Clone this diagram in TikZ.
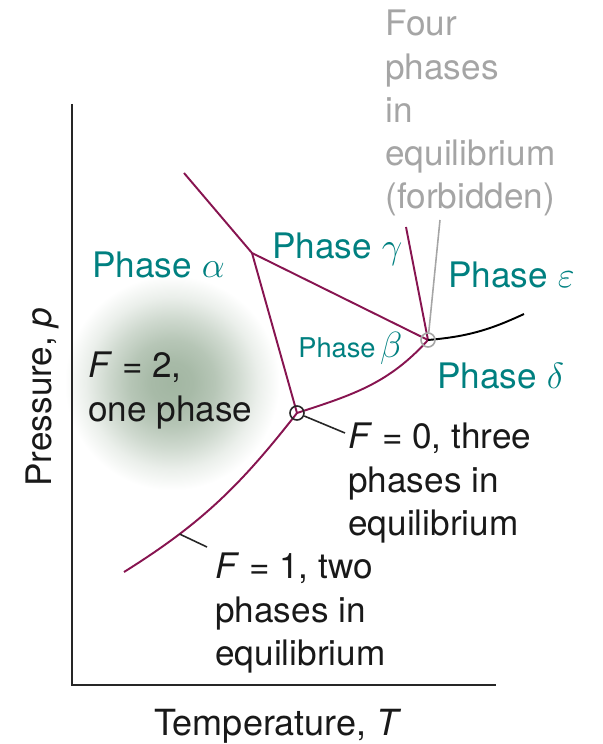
\documentclass[tikz,border=0pt]{standalone}
\usepackage{fontspec}
\setmainfont{TeX Gyre Heros}
\usepackage{tikz}
\usetikzlibrary{calc}
\definecolor{bndry}{RGB}{135,20,80}
\definecolor{phasec}{RGB}{0,128,128}
\definecolor{notec}{RGB}{165,165,165}
\definecolor{glowc}{RGB}{162,182,162}
\pgfdeclareradialshading{glow}{\pgfpoint{0bp}{0bp}}{%
  color(0bp)=(glowc); color(5bp)=(glowc!94!white); color(10bp)=(glowc!78!white);
  color(15bp)=(glowc!52!white); color(20bp)=(glowc!22!white); color(25bp)=(white); color(50bp)=(white)}
\tikzset{
  axis/.style  ={draw=black!85, line width=1.3pt},
  bnd/.style   ={draw=bndry, line width=1.1pt},
  lead/.style  ={draw=black!85, line width=0.9pt},
  tp/.style    ={circle, minimum size=0.28cm, inner sep=0pt, line width=0.9pt},
  lbl/.style   ={font=\fontsize{20}{24.6}\selectfont, inner sep=0pt, align=left, text=black!90},
  phase/.style ={font=\fontsize{20}{24}\selectfont, inner sep=0pt, text=phasec},
  small/.style ={font=\fontsize{15.5}{18}\selectfont, inner sep=0pt, text=phasec},
}

\begin{document}
\begin{tikzpicture}
  \useasboundingbox (0,0) rectangle (12.06,14.88);

  % one-phase region glow
  \shade[shading=glow] (3.44,7.22) circle (2.15);

  % axes
  \coordinate (o) at (1.44,1.18);
  \coordinate (ytop) at (1.44,12.80);
  \coordinate (xend) at (9.92,1.18);
  \draw[axis] (ytop) -- (o) -- (xend);

  % phase boundaries
  \coordinate (a0) at (3.68,11.42);
  \coordinate (t1) at (5.04,9.82);
  \coordinate (t2) at (5.94,6.62);
  \coordinate (q4) at (8.56,8.08);
  \coordinate (g0) at (8.12,10.34);
  \coordinate (e0) at (10.48,8.60);
  \coordinate (l0) at (2.48,3.44);
  \draw[bnd] (a0) -- (t1) -- (q4);
  \draw[bnd] (t1) -- (t2);
  \draw[bnd] (t2) to[out=18,in=228] (q4);
  \draw[bnd] (g0) -- (q4);
  \draw[bnd] (l0) to[out=32,in=232] coordinate[pos=0.27] (k1) (t2);
  \draw[line width=1.1pt] (q4) to[out=5,in=205] (e0);

  \node[tp, draw=black!85] (c3) at (t2) {};
  \node[tp, draw=notec] (c4) at (q4) {};

  % leaders
  \coordinate (f0tip) at (6.90,6.22);
  \coordinate (f1tip) at (4.14,3.94);
  \coordinate (ntip) at (8.80,10.48);
  \draw[lead] (c3) -- (f0tip);
  \draw[lead] (k1) -- (f1tip);
  \draw[lead, draw=notec] (c4) -- (ntip);

  % labels
  \node[phase, anchor=base west] (pa) at (1.84,9.32) {Phase $\alpha$};
  \node[phase, anchor=base west] (pg) at (5.44,9.70) {Phase $\gamma$};
  \node[phase, anchor=base west] (pe) at (8.96,9.12) {Phase $\varepsilon$};
  \node[small, anchor=base west] (pb) at (5.96,7.74) {Phase\,{\fontsize{20}{24}\selectfont$\beta$}};
  \node[phase, anchor=base west] (pd) at (8.74,7.10) {Phase $\delta$};

  \node[lbl, anchor=north west] (f2) at (1.76,7.84) {\textit{F} = 2,\\one phase};
  \node[lbl, anchor=north west] (f0) at (6.96,6.42) {\textit{F} = 0, three\\phases in\\equilibrium};
  \node[lbl, anchor=north west] (f1) at (4.30,3.82) {\textit{F} = 1, two\\phases in\\equilibrium};
  \node[lbl, anchor=north west, text=notec] (four) at (7.70,14.68)
    {Four\\phases\\in\\equilibrium\\(forbidden)};

  \node[lbl, anchor=base, font=\fontsize{20.5}{24}\selectfont] (xl) at (5.56,0.18) {Temperature, \textit{T}};
  \node[lbl, anchor=base, rotate=90] (yl) at (1.04,6.94) {Pressure, \textit{p}};
\end{tikzpicture}
\end{document}
